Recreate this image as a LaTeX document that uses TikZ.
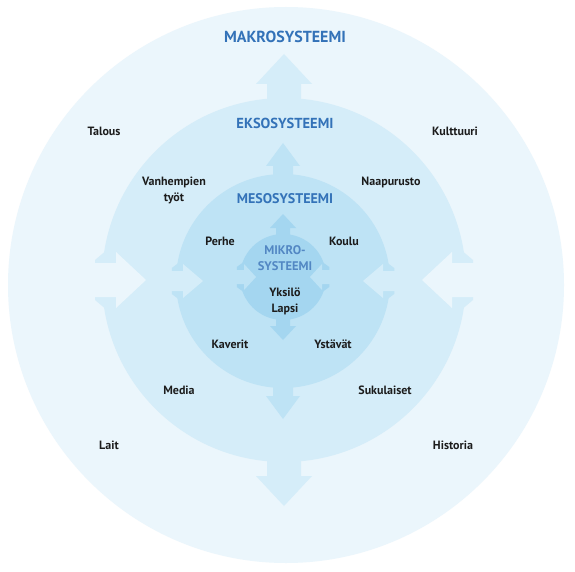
\documentclass[tikz,border=0pt]{standalone}
\usepackage{fontspec}
\setmainfont{PT Sans}
\definecolor{makrofill}{HTML}{EBF6FC}
\definecolor{eksofill}{HTML}{D5EDF9}
\definecolor{mesofill}{HTML}{BEE3F5}
\definecolor{mikrofill}{HTML}{A4D6F0}
\definecolor{systemblue}{HTML}{3372B8}
\definecolor{labelblack}{HTML}{1C1C1C}
\tikzset{systemlabel/.style={text=systemblue, inner sep=1pt, align=center},
  factorlabel/.style={text=labelblack, inner sep=1pt, align=center,
    font=\bfseries\fontsize{12}{16}\selectfont},
  ecomap/.style={x=1pt, y=-1pt}}
% arrow out of a circle: centre, angle, radius, length, head length, head half width, shaft half width, colour
\newcommand{\outarrow}[8]{%
  \fill[#8, shift={#1}, rotate=#2]
    (#3-8,-#7) -- (#3+#4-#5,-#7) -- (#3+#4-#5,-#6) -- (#3+#4,0)
    -- (#3+#4-#5,#6) -- (#3+#4-#5,#7) -- (#3-8,#7) -- cycle;}
% arrow into a circle, with tapered shoulders in the circle's colour
\newcommand{\inarrow}[9]{%
  \fill[#9, shift={#1}, rotate=#2] (#3-12,-#6-8) -- (#3+#6/4,-#7-3)
    -- (#3+#6/4,#7+3) -- (#3-12,#6+8) -- cycle;
  \fill[#8, shift={#1}, rotate=#2]
    (#3+12,-#7) -- (#3-#4+#5,-#7) -- (#3-#4+#5,-#6) -- (#3-#4,0)
    -- (#3-#4+#5,#6) -- (#3-#4+#5,#7) -- (#3+12,#7) -- cycle;}

\begin{document}
\begin{tikzpicture}[ecomap]
    \useasboundingbox (0,0) rectangle (575,572);
    \fill[white] (0,0) rectangle (575,572);
    \fill[makrofill] (286,285) circle[radius=278pt];
    % eksosysteemi
    \fill[eksofill] (284,280) circle[radius=182pt];
    \outarrow{(284,280)}{90}{182}{44}{30}{28}{17}{eksofill}
    \outarrow{(284,280)}{-90}{182}{44}{30}{28}{17}{eksofill}
    \inarrow{(284,280)}{180}{182}{44}{30}{28}{17}{makrofill}{eksofill}
    \inarrow{(284,280)}{0}{182}{44}{30}{28}{17}{makrofill}{eksofill}
    % mesosysteemi
    \fill[mesofill] (283,281) circle[radius=107pt];
    \outarrow{(283,281)}{90}{107}{31}{23}{17}{10}{mesofill}
    \outarrow{(283,281)}{-90}{107}{31}{23}{17}{10}{mesofill}
    \inarrow{(283,281)}{180}{107}{27}{20}{17}{10}{eksofill}{mesofill}
    \inarrow{(283,281)}{0}{107}{27}{20}{17}{10}{eksofill}{mesofill}
    % mikrosysteemi
    \fill[mikrofill] (283,277) circle[radius=43pt];
    \outarrow{(283,277)}{90}{43}{20}{14}{13}{7}{mikrofill}
    \outarrow{(283,277)}{-90}{43}{20}{14}{13}{7}{mikrofill}
    \inarrow{(283,277)}{180}{43}{16}{12}{13}{7}{mesofill}{mikrofill}
    \inarrow{(283,277)}{0}{43}{16}{12}{13}{7}{mesofill}{mikrofill}

    \node[systemlabel, font=\bfseries\fontsize{16}{18}\selectfont] (makro) at (285,37) {MAKROSYSTEEMI};
    \node[systemlabel, font=\bfseries\fontsize{14.5}{16}\selectfont] (ekso) at (285,123) {EKSOSYSTEEMI};
    \node[systemlabel, font=\bfseries\fontsize{14}{16}\selectfont] (meso) at (285,199) {MESOSYSTEEMI};
    \node[systemlabel, text=systemblue!85!white, font=\bfseries\fontsize{12.5}{16}\selectfont] (mikro) at (285,258) {MIKRO-\\SYSTEEMI};
    \node[factorlabel] (yksilo) at (285,301) {Yksilö\\Lapsi};
    \node[factorlabel] (talous) at (104,131) {Talous};
    \node[factorlabel] (kulttuuri) at (455,131) {Kulttuuri};
    \node[factorlabel] (vanhempien) at (174,190) {Vanhempien\\työt};
    \node[factorlabel] (naapurusto) at (391,182) {Naapurusto};
    \node[factorlabel] (perhe) at (220,241) {Perhe};
    \node[factorlabel] (koulu) at (344,241) {Koulu};
    \node[factorlabel] (kaverit) at (230,344) {Kaverit};
    \node[factorlabel] (ystavat) at (333,344) {Ystävät};
    \node[factorlabel] (media) at (179,390) {Media};
    \node[factorlabel] (sukulaiset) at (385,390) {Sukulaiset};
    \node[factorlabel] (lait) at (109,445) {Lait};
    \node[factorlabel] (historia) at (453,445) {Historia};
\end{tikzpicture}
\end{document}
